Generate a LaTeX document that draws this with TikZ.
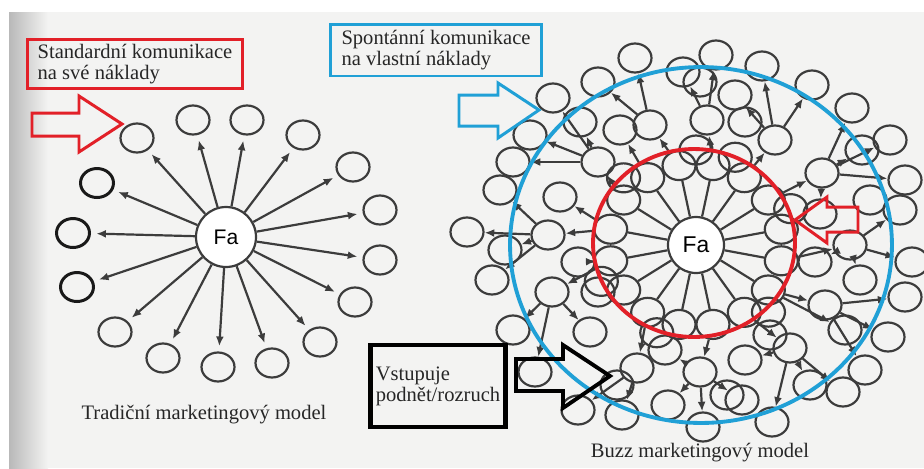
\documentclass[tikz,border=0pt]{standalone}
\usepackage{fontspec}
\setmainfont{Liberation Serif}
\setsansfont{Liberation Sans}
\usetikzlibrary{arrows.meta,shapes.geometric}
\definecolor{boxred}{RGB}{226,32,40}
\definecolor{boxblue}{RGB}{32,160,214}
\definecolor{ink}{RGB}{60,60,60}
\definecolor{paper}{RGB}{243,243,242}

\begin{document}
\begin{tikzpicture}[x=0.02cm, y=-0.02cm,
  bub/.style={ellipse, draw=ink, line width=1.25pt, minimum width=0.66cm, minimum height=0.58cm, inner sep=0pt},
  bubdark/.style={bub, draw=black!90, line width=1.7pt},
  fa/.style={circle, draw=ink, line width=1.25pt, fill=white, inner sep=0pt, font=\sffamily\fontsize{12}{12}\selectfont},
  spoke/.style={ink, line width=1.25pt},
  arr/.style={spoke, -{Latex[length=5.5pt,width=4.5pt]}},
  txt/.style={font=\rmfamily\fontsize{11.7}{12}\selectfont, text=black!85},
  tbox/.style={txt, draw, align=left, inner sep=1pt}]
\useasboundingbox (0,0) rectangle (924,468);
\fill[paper] (0,0) rectangle (924,468);
\fill[white] (0,0) rectangle (924,12);
\fill[white] (0,0) rectangle (9,468);
\shade[left color=gray!55, right color=paper] (9,12) rectangle (48,468);

\node[fa, minimum size=1.2cm] (fa) at (226,237) {Fa};
\foreach \i/\x/\y in {1/137/138, 2/193/120, 3/247/120, 4/303/135, 5/353/167, 6/380/210, 7/380/260, 8/355/302, 9/320/342, 10/272/363, 11/218/367, 12/163/358, 13/115/332} {
  \node[bub] (l\i) at (\x,\y) {};
  \draw[arr, shorten >=3pt] (fa) -- (l\i);
}
\foreach \i/\x/\y in {14/77/287, 15/73/233, 16/97/183} {
  \node[bubdark] (l\i) at (\x,\y) {};
  \draw[arr, shorten >=3pt] (fa) -- (l\i);
}
\node[tbox, draw=boxred, line width=1.7pt, minimum width=4.32cm, minimum height=0.98cm] (std) at (135,64) {Standardní komunikace\\na své náklady};
\draw[boxred, line width=1.7pt] (32,113) -- (79,113) -- (79,96) -- (122,124) -- (79,152) -- (79,136) -- (32,136) -- cycle;
\node[txt] (trad) at (204,415) {Tradiční marketingový model};

\node[fa, minimum size=1.12cm, font=\sffamily\fontsize{13}{13}\selectfont] (fb) at (696,245) {Fa};
\foreach \k in {0,...,15} {
  \path (fb) ++(11.25+22.5*\k:1.74cm and 1.62cm) node[bub] (a\k) {};
  \draw[spoke] (fb) -- (a\k);
}
\foreach \k in {1,3,4,6,9,11,14} \path (fb) ++(22.5*\k:2.05cm and 1.9cm) node[bub] (b\k) {};
\foreach \h/\x/\y/\a/\kids in {1/707/120/3/{716/55,683/72}, 2/650/125/4/{635/58,598/82}, 3/775/140/2/{762/66,812/85,735/95}, 4/822/173/1/{852/108,890/140,905/180}, 5/598/162/6/{553/98,530/135}, 6/548/235/7/{500/190,467/232,492/280}, 7/552/292/8/{513/330,535/372,590/332}, 8/637/368/10/{578/410,622/415}, 9/700/372/12/{668/405,703/427,742/400}, 10/790/348/13/{772/422,843/392}, 11/825/305/14/{865/370,888/337,905/297}, 12/850/245/15/{912/262,900/210}} {
  \node[bub] (h\h) at (\x,\y) {};
  \draw[arr] (a\a) -- (h\h);
  \foreach \kx/\ky [count=\k] in \kids {
    \node[bub] (h\h-\k) at (\kx,\ky) {};
    \draw[arr] (h\h) -- (h\h-\k);
  }
}
\foreach \s/\x/\y [count=\i] in {h5/513/162, a7/560/197, h4/820/214, h12/815/262, h10/745/360, h9/665/350, h4/862/150, h5/580/122, a14/845/330, a5/620/130, a8/578/262, h10/810/385, h12/860/280, h6/505/250} {
  \node[bub] (f\i) at (\x,\y) {};
  \draw[arr] (\s) -- (f\i);
}
\foreach \x/\y [count=\i] in {700/82, 598/292, 770/335, 617/385, 727/395, 870/200, 745/122} \node[bub] (g\i) at (\x,\y) {};

\draw[boxred, line width=2.2pt] (694,243) ellipse (2.02cm and 1.88cm);
\draw[boxblue, line width=2.2pt] (701,245) ellipse (3.82cm and 3.56cm);
\node[tbox, draw=boxblue, line width=1.7pt, minimum width=4.24cm, minimum height=1.04cm] (spo) at (436,50) {Spontánní komunikace\\na vlastní náklady};
\draw[boxblue, line width=1.7pt] (459,95) -- (498,95) -- (498,83) -- (539,110) -- (498,138) -- (498,126) -- (459,126) -- cycle;
\draw[boxred, line width=1.7pt] (795,220) -- (827,197) -- (827,207) -- (858,207) -- (858,232) -- (827,232) -- (827,243) -- cycle;
\node[tbox, draw=black, line width=2.3pt, fill=paper, minimum width=2.7cm, minimum height=1.64cm] (vst) at (438,386) {Vstupuje\\podnět/rozruch};
\draw[black, line width=2.2pt] (516,359) -- (563,359) -- (563,345) -- (610,376) -- (563,408) -- (563,391) -- (516,391) -- cycle;
\node[txt] (buzz) at (700,453) {Buzz marketingový model};
\end{tikzpicture}
\end{document}
